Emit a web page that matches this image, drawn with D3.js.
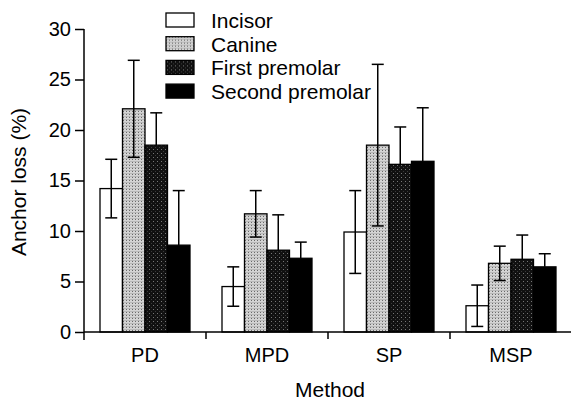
<!DOCTYPE html>
<html>
<head>
<meta charset="utf-8">
<script src="https://cdn.jsdelivr.net/npm/d3@7"></script>
<style>
  html, body { margin: 0; padding: 0; background: #fff; }
  svg { display: block; font-family: "Liberation Sans", Arial, Helvetica, sans-serif; }
</style>
</head>
<body>
<svg id="chart" width="571" height="400"></svg>
<script>
const methods = ["PD", "MPD", "SP", "MSP"];
const teeth = ["Incisor", "Canine", "First premolar", "Second premolar"];
// mean anchor loss (%) per method, in tooth order
const meanPD  = [14.2, 22.1, 18.5, 8.6];
const meanMPD = [4.5, 11.7, 8.1, 7.3];
const meanSP  = [9.9, 18.5, 16.6, 16.9];
const meanMSP = [2.6, 6.8, 7.2, 6.45];
// standard deviations
const sdPD  = [2.9, 4.8, 3.2, 5.4];
const sdMPD = [1.95, 2.3, 3.5, 1.6];
const sdSP  = [4.1, 8.0, 3.7, 5.3];
const sdMSP = [2.05, 1.7, 2.4, 1.3];
const yTicks = [0, 5, 10, 15, 20, 25, 30];

const means = [meanPD, meanMPD, meanSP, meanMSP];
const sds = [sdPD, sdMPD, sdSP, sdMSP];

const svg = d3.select("#chart");
const defs = svg.append("defs");

// light dotted pattern (canine)
const p1 = defs.append("pattern").attr("id", "pLight").attr("patternUnits", "userSpaceOnUse")
  .attr("width", 3).attr("height", 3);
p1.append("rect").attr("width", 3).attr("height", 3).attr("fill", "#d4d4d4");
p1.append("rect").attr("width", 1).attr("height", 1).attr("fill", "#6a6a6a");
p1.append("rect").attr("x", 0).attr("y", 2).attr("width", 3).attr("height", 0.6).attr("fill", "#a8a8a8");

// dark dotted pattern (first premolar)
const p2 = defs.append("pattern").attr("id", "pDark").attr("patternUnits", "userSpaceOnUse")
  .attr("width", 4).attr("height", 4);
p2.append("rect").attr("width", 4).attr("height", 4).attr("fill", "#111");
p2.append("rect").attr("x", 1).attr("y", 1).attr("width", 1).attr("height", 1).attr("fill", "#777");
p2.append("rect").attr("x", 3).attr("y", 3).attr("width", 1).attr("height", 1).attr("fill", "#3a3a3a");

const fills = ["#ffffff", "url(#pLight)", "url(#pDark)", "#000000"];

const x0 = d3.scaleBand().domain(methods).range([84, 572]).padding(0);
const x1 = d3.scaleBand().domain(teeth).range([16, x0.bandwidth() - 16]).padding(0);
const y = d3.scaleLinear().domain([0, 30]).range([332, 29]);

// bars
const groups = svg.append("g").selectAll("g").data(methods).join("g")
  .attr("transform", d => `translate(${x0(d)},0)`);

groups.each(function(m, mi) {
  const g = d3.select(this);
  const data = teeth.map((t, ti) => ({ t, ti, v: means[mi][ti], s: sds[mi][ti] }));
  g.selectAll("rect").data(data).join("rect")
    .attr("x", d => x1(d.t))
    .attr("y", d => y(d.v))
    .attr("width", x1.bandwidth())
    .attr("height", d => y(0) - y(d.v))
    .attr("fill", d => fills[d.ti])
    .attr("stroke", "#000").attr("stroke-width", 1.3);
  const eb = g.selectAll("g.err").data(data).join("g").attr("class", "err")
    .attr("stroke", "#000").attr("stroke-width", 1.5);
  const cx = d => x1(d.t) + x1.bandwidth() / 2;
  // dark bars hide the lower half of the error bar
  eb.append("line")
    .attr("x1", cx).attr("x2", cx)
    .attr("y1", d => d.ti >= 2 ? y(d.v) : y(d.v - d.s)).attr("y2", d => y(d.v + d.s));
  eb.append("line")
    .attr("x1", d => cx(d) - 6).attr("x2", d => cx(d) + 6)
    .attr("y1", d => y(d.v + d.s)).attr("y2", d => y(d.v + d.s));
  eb.filter(d => d.ti < 2).append("line")
    .attr("x1", d => cx(d) - 6).attr("x2", d => cx(d) + 6)
    .attr("y1", d => y(d.v - d.s)).attr("y2", d => y(d.v - d.s));
});

// y axis
const yAxis = svg.append("g").attr("transform", "translate(84,0)")
  .call(d3.axisLeft(y).tickValues(yTicks).tickSize(9).tickPadding(4));
yAxis.select(".domain").attr("stroke-width", 1.5).attr("d", `M0,${y(30)}V${y(0) + 8}`);
yAxis.selectAll(".tick line").attr("stroke-width", 1.5);
yAxis.selectAll("text").attr("font-size", 20).attr("fill", "#000")
  .attr("font-family", "Liberation Sans, Arial, sans-serif");

// x axis
const xAxis = svg.append("g").attr("transform", `translate(0,${y(0)})`)
  .call(d3.axisBottom(x0).tickSize(0).tickPadding(16));
xAxis.select(".domain").attr("stroke-width", 1.5).attr("d", `M84,0H572`);
xAxis.selectAll("text").attr("font-size", 20).attr("fill", "#000")
  .attr("font-family", "Liberation Sans, Arial, sans-serif");
// boundary ticks between groups
svg.append("g").selectAll("line").data(methods.slice(1)).join("line")
  .attr("x1", d => x0(d)).attr("x2", d => x0(d))
  .attr("y1", y(0)).attr("y2", y(0) + 7)
  .attr("stroke", "#000").attr("stroke-width", 1.5);

// axis titles
svg.append("text").attr("x", 330).attr("y", 397).attr("text-anchor", "middle")
  .attr("font-size", 21).text("Method");
svg.append("text").attr("transform", "translate(26,182) rotate(-90)")
  .attr("text-anchor", "middle").attr("font-size", 21).text("Anchor loss (%)");

// legend
const leg = svg.append("g").selectAll("g").data(teeth).join("g")
  .attr("transform", (d, i) => `translate(166,${13 + i * 23.7})`);
leg.append("rect").attr("width", 28).attr("height", 14)
  .attr("fill", (d, i) => fills[i]).attr("stroke", "#000").attr("stroke-width", 1.3);
leg.append("text").attr("x", 45).attr("y", 15).attr("font-size", 21).text(d => d);
</script>
</body>
</html>
